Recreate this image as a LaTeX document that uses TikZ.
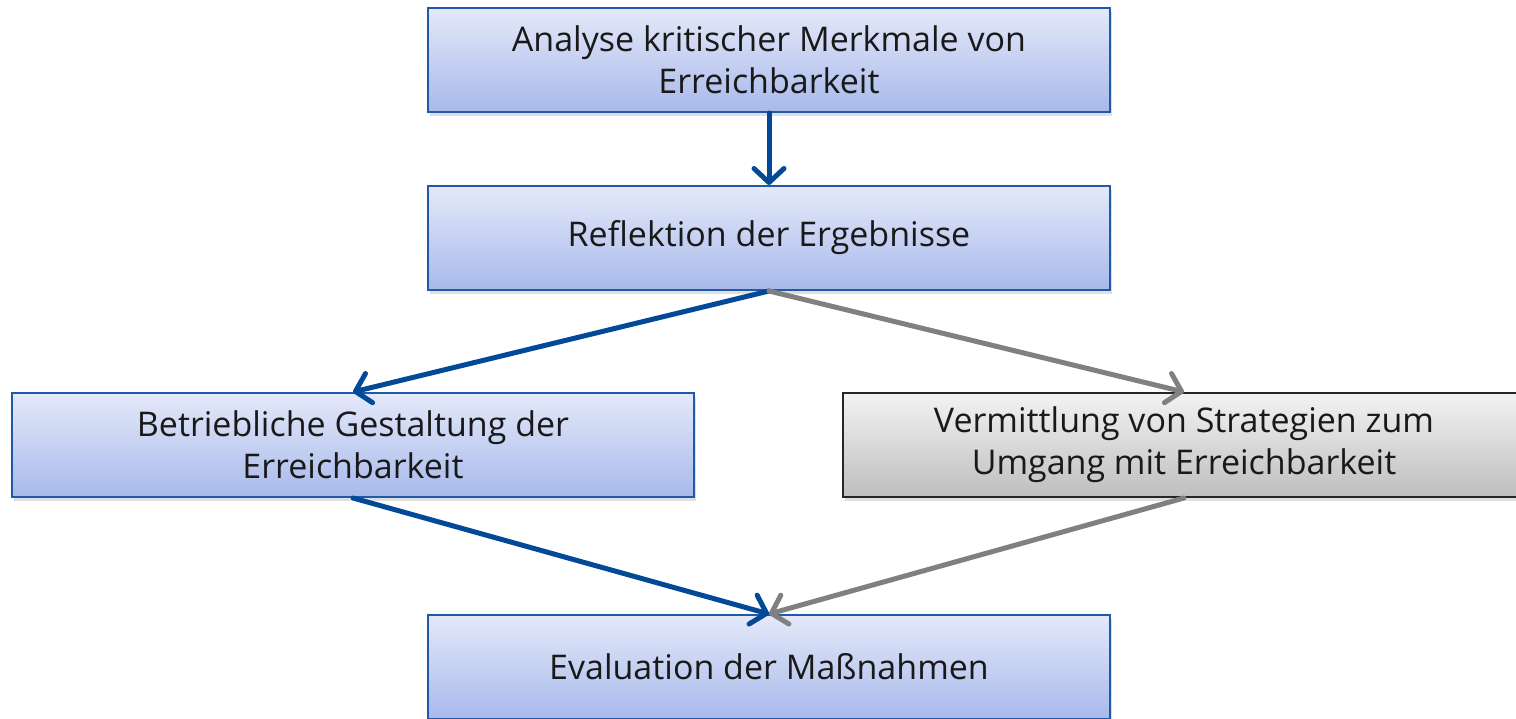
\documentclass[tikz,border=0pt]{standalone}
\usepackage{fontspec}
\setmainfont{Open Sans}
\usetikzlibrary{arrows.meta,shadows}
\definecolor{arrblue}{RGB}{2,74,152}
\definecolor{arrgray}{RGB}{128,128,128}
\definecolor{boxborder}{RGB}{34,88,168}
\definecolor{btop}{RGB}{228,233,249}
\definecolor{bbot}{RGB}{168,185,235}
\definecolor{gtop}{RGB}{243,243,243}
\definecolor{gbot}{RGB}{190,190,190}
\tikzset{
  bluebox/.style={draw=boxborder, line width=2pt, top color=btop, bottom color=bbot,
    minimum width=682pt, minimum height=104pt, inner sep=0pt, align=center,
    font=\fontsize{34}{42}\selectfont, text=black!90,
    drop shadow={opacity=0.25, shadow xshift=2pt, shadow yshift=-4pt}},
  graybox/.style={bluebox, draw=black!85, top color=gtop, bottom color=gbot},
  bluearrow/.style={draw=arrblue, line width=5pt, line cap=round,
    -{Straight Barb[length=14pt, width=30pt, line cap=round, line join=round]}},
  grayarrow/.style={bluearrow, draw=arrgray}
}
\begin{document}
\begin{tikzpicture}[x=1pt,y=-1pt]
\useasboundingbox (0,0) rectangle (1516,718);
\node[bluebox] (a) at (769,60) {Analyse kritischer Merkmale von\\Erreichbarkeit};
\node[bluebox] (r) at (769,238) {Reflektion der Ergebnisse};
\node[bluebox] (b) at (353,445) {Betriebliche Gestaltung der\\Erreichbarkeit};
\node[graybox] (v) at (1184,445) {Vermittlung von Strategien zum\\Umgang mit Erreichbarkeit};
\node[bluebox] (e) at (769,667) {Evaluation der Maßnahmen};
\draw[bluearrow] (a.south) -- (r.north);
\draw[bluearrow] (r.south) -- (b.north);
\draw[grayarrow] (r.south) -- (v.north);
\draw[bluearrow] (b.south) -- (e.north);
\draw[grayarrow] (v.south) -- (e.north);
\end{tikzpicture}
\end{document}
